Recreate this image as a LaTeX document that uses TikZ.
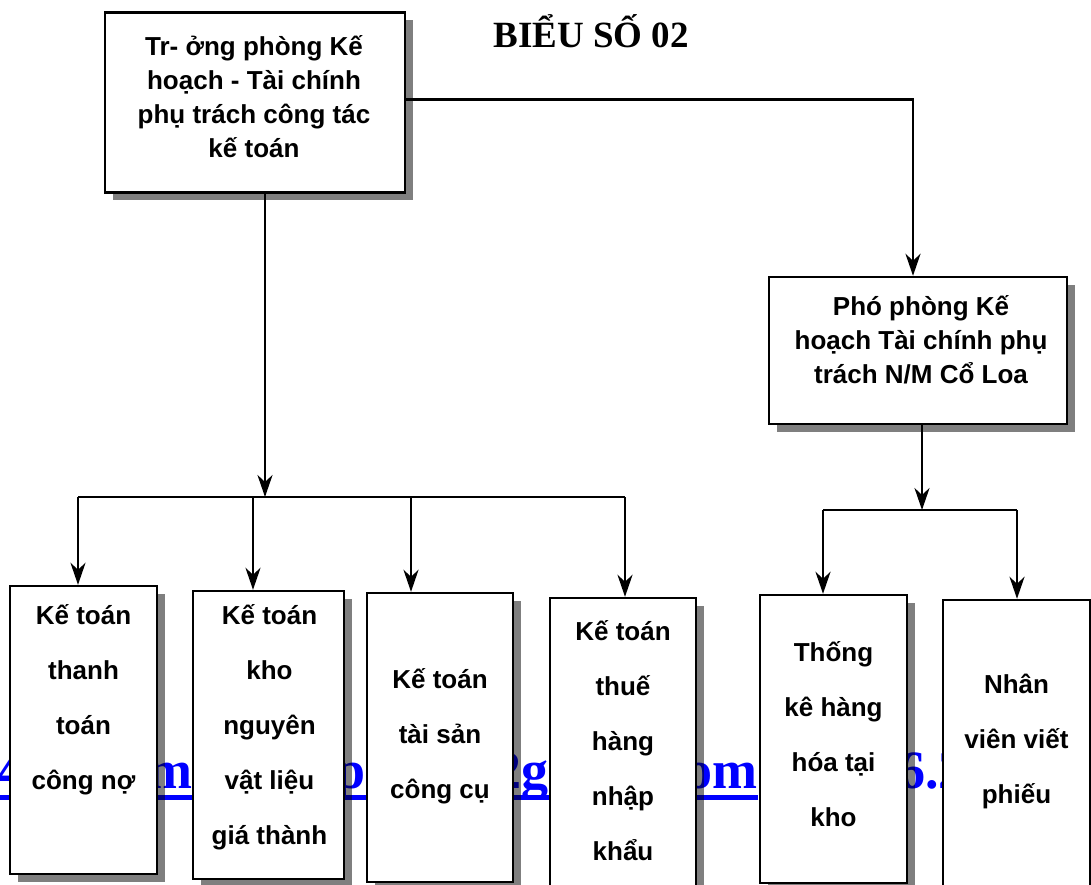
\documentclass[tikz,border=0pt]{standalone}
\usepackage{fontspec}
\setmainfont{Liberation Serif}
\setsansfont{Liberation Sans}
\usepackage{xcolor}
\usetikzlibrary{arrows.meta,positioning,shadows,calc}

\definecolor{linkblue}{RGB}{0,0,255}

\tikzset{
  box/.style={draw,line width=2.4pt,fill=white,
    general shadow={fill=black,fill opacity=0.5,shadow xshift=8pt,shadow yshift=-8pt}},
  txt/.style={align=center,font=\sffamily\bfseries\fontsize{26}{55}\selectfont},
  toptxt/.style={txt,font=\sffamily\bfseries\fontsize{26}{34}\selectfont},
  wm/.style={text=linkblue,inner sep=0pt,font=\bfseries\fontsize{54}{60}\selectfont},
  conn/.style={line width=2.8pt},
  arr/.style={conn,-{Stealth[length=22pt,width=15pt,inset=7pt]}},
}

\begin{document}
\begin{tikzpicture}[x=1pt,y=-1pt]
  \clip (0,0) rectangle (1091,885);

  % watermark behind the boxes
  \node[wm,anchor=base west] (w1) at (-3,788) {4};
  \node[wm,anchor=base east] (w2) at (193,788) {m};
  \node[wm,anchor=base east] (w3) at (366,788) {p};
  \node[wm,anchor=base east] (w4) at (549,788) {2g};
  \node[wm,anchor=base east] (w5) at (758,788) {om};
  \node[wm,anchor=base west] (w6) at (898,788) {6.2};
  \draw[linkblue,line width=5pt] (w1.base west) ++(0,9) coordinate (ul) -- (ul -| w5.base east);

  \node[font=\bfseries\fontsize{37}{40}\selectfont,anchor=base] (title) at (591,48) {BIỂU SỐ 02};

  % boxes
  \node[box,minimum width=300pt,minimum height=180pt] (truong) at (255,102.5) {};
  \node[box,minimum width=298pt,minimum height=147pt] (pho) at (918,350.5) {};
  \node[box,minimum width=147pt,minimum height=288pt] (kt1) at (83.5,730) {};
  \node[box,minimum width=151pt,minimum height=288pt] (kt2) at (268.5,735) {};
  \node[box,minimum width=146pt,minimum height=289pt] (kt3) at (440,737.5) {};
  \node[box,minimum width=146pt,minimum height=302pt] (kt4) at (623,749) {};
  \node[box,minimum width=147pt,minimum height=288pt] (tk) at (833.5,739) {};
  \node[box,minimum width=147pt,minimum height=300pt] (nv) at (1016.5,750) {};

  % texts
  \node[toptxt] (truong-t) at (254,96.5) {Tr- ởng phòng Kế\\hoạch - Tài chính\\phụ trách công tác\\kế toán};
  \node[toptxt] (pho-t) at (921,340) {Phó phòng Kế\\hoạch Tài chính phụ\\trách N/M Cổ Loa};
  \node[txt] (kt1-t) at (83.5,700) {Kế toán\\thanh\\toán\\công nợ};
  \node[txt] (kt2-t) at (269.5,727) {Kế toán\\kho\\nguyên\\vật liệu\\giá thành};
  \node[txt] (kt3-t) at (440,736) {Kế toán\\tài sản\\công cụ};
  \node[txt] (kt4-t) at (623,741) {Kế toán\\thuế\\hàng\\nhập\\khẩu};
  \node[txt] (tk-t) at (833.5,734) {Thống\\kê hàng\\hóa tại\\kho};
  \node[txt] (nv-t) at (1016.5,741) {Nhân\\viên viết\\phiếu};

  % joints on the two bars
  \coordinate (j0) at (265,497);
  \coordinate (j1) at (78,497);
  \coordinate (j2) at (253,497);
  \coordinate (j3) at (411,497);
  \coordinate (j4) at (625,497);
  \coordinate (r0) at (922,510);
  \coordinate (r1) at (823,510);
  \coordinate (r2) at (1017,510);

  \draw[arr] ([yshift=3pt]truong.east) -| ([xshift=-5pt]pho.north);
  \draw[arr] (truong.south -| j0) -- (j0);
  \draw[conn] (j1) -- (j4);
  \draw[arr] (j1) -- (j1 |- kt1.north);
  \draw[arr] (j2) -- (j2 |- kt2.north);
  \draw[arr] (j3) -- (j3 |- kt3.north);
  \draw[arr] (j4) -- (j4 |- kt4.north);

  \draw[arr] (pho.south -| r0) -- (r0);
  \draw[conn] (r1) -- (r2);
  \draw[arr] (r1) -- (r1 |- tk.north);
  \draw[arr] (r2) -- (r2 |- nv.north);
\end{tikzpicture}
\end{document}
